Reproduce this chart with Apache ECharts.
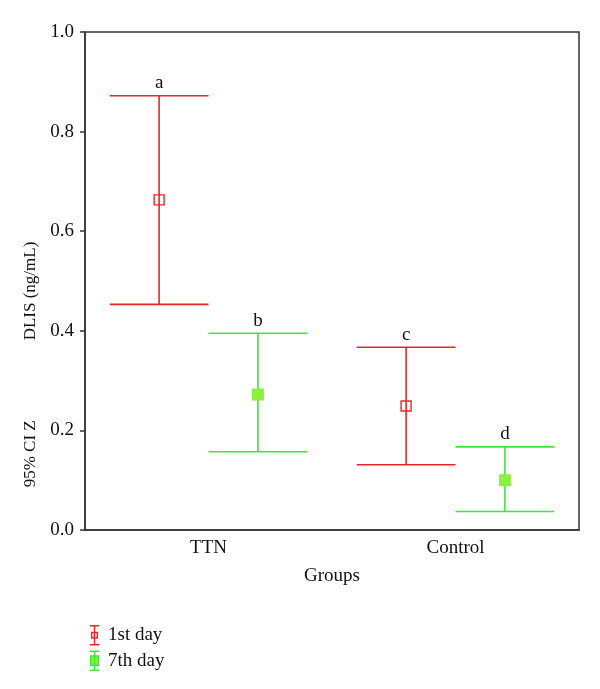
<!DOCTYPE html>
<html>
<head>
<meta charset="utf-8">
<script src="https://cdn.jsdelivr.net/npm/echarts@6/dist/echarts.min.js"></script>
<style>html,body{margin:0;padding:0;background:#fff;}#c{width:600px;height:689px;}</style>
</head>
<body>
<div id="c"></div>
<script>
const categories = ['TTN', 'Control'];
const day1Mean  = [0.663, 0.249];
const day1Lower = [0.453, 0.131];
const day1Upper = [0.872, 0.367];
const day1Tags  = ['a', 'c'];
const day7Mean  = [0.272, 0.100];
const day7Lower = [0.157, 0.037];
const day7Upper = [0.395, 0.167];
const day7Tags  = ['b', 'd'];
const yTicks = [0, 0.2, 0.4, 0.6, 0.8, 1.0];

const RED = '#e8262b', GREEN = '#3ee63e', LIGHT = '#8cf03c';
const FONT = '"Liberation Serif", "DejaVu Serif", serif';

function rows(mean, lo, hi, tags) {
  return categories.map((c, i) => [i, mean[i], lo[i], hi[i], tags[i]]);
}

function makeRender(offFrac, color, filled) {
  return function (params, api) {
    const idx = api.value(0);
    const band = api.size([1, 0])[0];
    const off = band * offFrac;
    const hw = band * 0.2;
    const pm = api.coord([idx, api.value(1)]);
    const x = pm[0] + off;
    const yLo = api.coord([idx, api.value(2)])[1];
    const yHi = api.coord([idx, api.value(3)])[1];
    const ls = { stroke: color, lineWidth: 1.6 };
    const s = filled ? 12 : 10;
    const children = [
      { type: 'line', shape: { x1: x, y1: yHi, x2: x, y2: yLo }, style: ls },
      { type: 'line', shape: { x1: x - hw, y1: yHi, x2: x + hw, y2: yHi }, style: ls },
      { type: 'line', shape: { x1: x - hw, y1: yLo, x2: x + hw, y2: yLo }, style: ls },
      { type: 'rect', shape: { x: x - s / 2, y: pm[1] - s / 2, width: s, height: s },
        style: filled ? { fill: LIGHT, stroke: null } : { fill: 'none', stroke: color, lineWidth: 1.4 } },
      { type: 'text', x: x, y: yHi - 3,
        style: { text: api.value(4), fill: '#111', font: '19px ' + FONT, align: 'center', verticalAlign: 'bottom' } }
    ];
    return { type: 'group', children: children };
  };
}

const iconPath1 = 'path://M0,0L10,0M5,0L5,20M0,20L10,20M2,7L8,7L8,13L2,13Z';
const iconPath7 = 'path://M0,0L10,0M5,0L5,20M0,20L10,20M1,5L9,5L9,15L1,15Z';

const chart = echarts.init(document.getElementById('c'));
chart.setOption({
  animation: false,
  backgroundColor: '#fff',
  grid: { left: 85, right: 21, top: 32, bottom: 159, show: true, borderColor: '#333', borderWidth: 1.5, containLabel: false },
  xAxis: {
    type: 'category', data: categories,
    axisLine: { lineStyle: { color: '#333', width: 1.5 } },
    axisTick: { show: false },
    axisLabel: { color: '#111', fontFamily: FONT, fontSize: 19, margin: 9 },
    name: 'Groups', nameLocation: 'middle', nameGap: 37,
    nameTextStyle: { color: '#111', fontFamily: FONT, fontSize: 19 },
    splitLine: { show: false }
  },
  yAxis: {
    type: 'value', min: 0, max: 1, interval: 0.2,
    axisLine: { show: true, lineStyle: { color: '#333', width: 1.5 } },
    axisTick: { show: true, length: 5, lineStyle: { color: '#333', width: 1.5 } },
    axisLabel: { color: '#111', fontFamily: FONT, fontSize: 19, margin: 11,
      formatter: v => yTicks.find(t => Math.abs(t - v) < 1e-9).toFixed(1) },
    splitLine: { show: false },
    name: '{a|95% CI Z}{g|}{b|DLIS (ng/mL)}{t|}',
    nameLocation: 'middle', nameGap: 46,
    nameTextStyle: {
      color: '#111', fontFamily: FONT, fontSize: 17,
      rich: {
        a: { fontFamily: FONT, fontSize: 17, color: '#111' },
        b: { fontFamily: FONT, fontSize: 17, color: '#111' },
        g: { width: 80 },
        t: { width: 167 }
      }
    }
  },
  legend: {
    orient: 'vertical', left: 84, top: 620, itemWidth: 11, itemHeight: 19, itemGap: 5,
    textStyle: { color: '#111', fontFamily: FONT, fontSize: 19, padding: [0, 0, 0, 3] },
    data: [
      { name: '1st day', icon: iconPath1, itemStyle: { color: 'rgba(0,0,0,0)', borderColor: RED, borderWidth: 1.5 } },
      { name: '7th day', icon: iconPath7, itemStyle: { color: LIGHT, borderColor: GREEN, borderWidth: 1.5 } }
    ]
  },
  series: [
    { name: '1st day', type: 'custom', renderItem: makeRender(-0.2, RED, false),
      itemStyle: { color: RED }, encode: { x: 0, y: [1, 2, 3] },
      data: rows(day1Mean, day1Lower, day1Upper, day1Tags) },
    { name: '7th day', type: 'custom', renderItem: makeRender(0.2, GREEN, true),
      itemStyle: { color: GREEN }, encode: { x: 0, y: [1, 2, 3] },
      data: rows(day7Mean, day7Lower, day7Upper, day7Tags) }
  ]
});
</script>
</body>
</html>
